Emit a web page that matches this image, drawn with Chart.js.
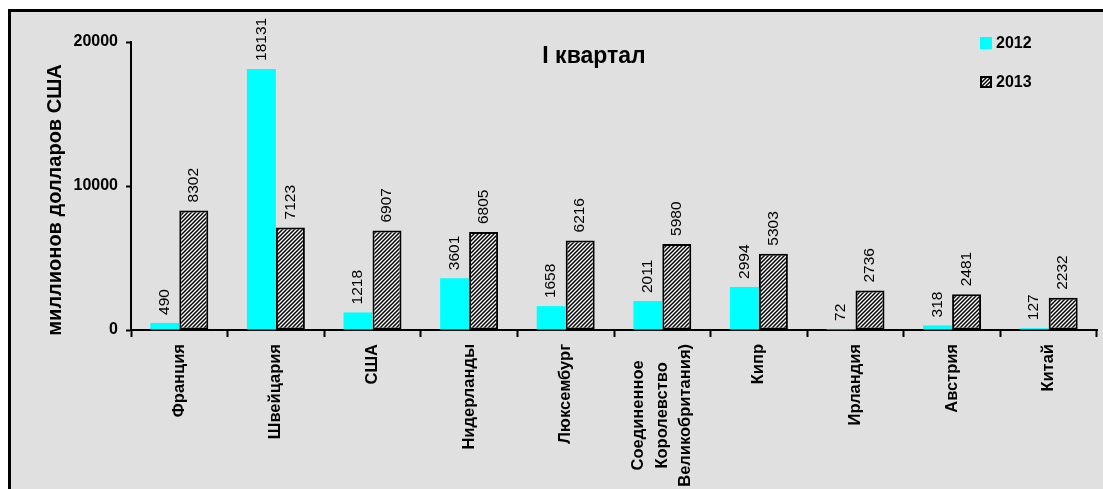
<!DOCTYPE html>
<html lang="ru">
<head>
<meta charset="utf-8">
<title>I квартал</title>
<script src="https://cdn.jsdelivr.net/npm/chart.js@4/dist/chart.umd.min.js"></script>
<style>
  html, body { margin: 0; padding: 0; background: #ffffff; }
  #wrap { position: relative; width: 1103px; height: 489px; }
</style>
</head>
<body>
<div id="wrap"><canvas id="chart" width="1103" height="489"></canvas></div>
<script>
// Countries (categories); the long name wraps onto three lines
const categories = [
  'Франция',
  'Швейцария',
  'США',
  'Нидерланды',
  'Люксембург',
  ['Соединенное', 'Королевство', 'Великобритания)'],
  'Кипр',
  'Ирландия',
  'Австрия',
  'Китай'
];

// Series values, millions of US dollars
const values2012 = [490, 18131, 1218, 3601, 1658, 2011, 2994, 72, 318, 127];
const values2013 = [8302, 7123, 6907, 6805, 6216, 5980, 5303, 2736, 2481, 2232];

// Series names and y-axis ticks
const seriesNames = ['2012', '2013'];
const yTicks = [0, 10000, 20000];

const chartTitle = 'I квартал';
const yAxisTitle = 'миллионов долларов США';

const FONT = '"Liberation Sans", Arial, sans-serif';

// Diagonal hatch fill for the second series
function makeHatch() {
  const c = document.createElement('canvas');
  c.width = 4; c.height = 4;
  const g = c.getContext('2d');
  g.fillStyle = '#ffffff';
  g.fillRect(0, 0, 4, 4);
  g.strokeStyle = '#000000';
  g.lineWidth = 1.5;
  g.beginPath();
  g.moveTo(-1, 1); g.lineTo(1, -1);
  g.moveTo(0, 4); g.lineTo(4, 0);
  g.moveTo(3, 5); g.lineTo(5, 3);
  g.stroke();
  return g.createPattern(c, 'repeat');
}
const hatch = makeHatch();

// Grey panel with a black frame on top and left
const panelPlugin = {
  id: 'panel',
  beforeDraw(chart) {
    const ctx = chart.ctx;
    const w = chart.width, h = chart.height;
    ctx.save();
    ctx.fillStyle = '#ffffff';
    ctx.fillRect(0, 0, w, h);
    ctx.fillStyle = '#e0e0e0';
    ctx.fillRect(8, 9, w - 8, h - 9);
    ctx.fillStyle = '#000000';
    ctx.fillRect(8, 9, w - 8, 3);
    ctx.fillRect(8, 9, 3, h - 9);
    ctx.restore();
  }
};

// Title inside the plot region and the vertical axis caption
const titlePlugin = {
  id: 'innerTitle',
  afterDraw(chart) {
    const ctx = chart.ctx;
    ctx.save();
    ctx.fillStyle = '#000000';
    ctx.textAlign = 'center';
    ctx.textBaseline = 'middle';
    ctx.font = 'bold 23px ' + FONT;
    ctx.fillText(chartTitle, 594, 57);
    ctx.translate(55, chart.chartArea.top + 158);
    ctx.rotate(-Math.PI / 2);
    ctx.font = 'bold 20px ' + FONT;
    ctx.fillText(yAxisTitle, 0, 0);
    ctx.restore();
  }
};

// Category names, rotated, below the x axis
const categoryLabelPlugin = {
  id: 'categoryLabels',
  afterDraw(chart) {
    const ctx = chart.ctx;
    const xs = chart.scales.x;
    const lineGap = 23.5;
    ctx.save();
    ctx.font = 'bold 16.5px ' + FONT;
    ctx.fillStyle = '#000000';
    ctx.textAlign = 'center';
    ctx.textBaseline = 'middle';
    chart.data.labels.forEach((lab, i) => {
      const lines = Array.isArray(lab) ? lab : [lab];
      const maxW = Math.max(...lines.map(t => ctx.measureText(t).width));
      const cx = xs.getPixelForValue(i);
      const cy = xs.top + 14 + maxW / 2;
      lines.forEach((t, k) => {
        const off = (k - (lines.length - 1) / 2) * lineGap;
        ctx.save();
        ctx.translate(cx + off, cy);
        ctx.rotate(-Math.PI / 2);
        ctx.fillText(t, 0, 0);
        ctx.restore();
      });
    });
    ctx.restore();
  }
};

// Legend in the upper right corner
const legendPlugin = {
  id: 'cornerLegend',
  afterDraw(chart) {
    const ctx = chart.ctx;
    const x = chart.width - 123;
    const rows = [43, 82];
    ctx.save();
    chart.data.datasets.forEach((ds, i) => {
      const y = rows[i];
      ctx.fillStyle = ds.backgroundColor;
      ctx.fillRect(x, y - 6, 12, 12);
      if (ds.borderWidth) {
        ctx.strokeStyle = '#000000';
        ctx.lineWidth = 2;
        ctx.strokeRect(x + 1, y - 5, 10, 10);
      }
      ctx.fillStyle = '#000000';
      ctx.font = 'bold 16px ' + FONT;
      ctx.textAlign = 'left';
      ctx.textBaseline = 'middle';
      ctx.fillText(ds.label, x + 16, y + 1);
    });
    ctx.restore();
  }
};

// Vertical value labels above each bar
const valueLabelPlugin = {
  id: 'valueLabels',
  afterDatasetsDraw(chart) {
    const ctx = chart.ctx;
    ctx.save();
    ctx.font = '15.5px ' + FONT;
    ctx.fillStyle = '#000000';
    ctx.textAlign = 'left';
    ctx.textBaseline = 'middle';
    chart.data.datasets.forEach((ds, i) => {
      const meta = chart.getDatasetMeta(i);
      meta.data.forEach((bar, j) => {
        ctx.save();
        ctx.translate(bar.x, bar.y - 8);
        ctx.rotate(-Math.PI / 2);
        ctx.fillText(String(ds.data[j]), 0, 0);
        ctx.restore();
      });
    });
    ctx.restore();
  }
};

new Chart(document.getElementById('chart'), {
  type: 'bar',
  data: {
    labels: categories,
    datasets: [
      {
        label: seriesNames[0],
        data: values2012,
        backgroundColor: '#00ffff',
        borderWidth: 0,
        categoryPercentage: 0.6,
        barPercentage: 1.0
      },
      {
        label: seriesNames[1],
        data: values2013,
        backgroundColor: hatch,
        borderColor: '#000000',
        borderWidth: 2,
        borderSkipped: false,
        categoryPercentage: 0.6,
        barPercentage: 1.0
      }
    ]
  },
  options: {
    responsive: false,
    animation: false,
    events: [],
    layout: { padding: { left: 40, top: 42, right: 6, bottom: 0 } },
    plugins: {
      legend: { display: false },
      title: { display: false },
      tooltip: { enabled: false }
    },
    scales: {
      x: {
        offset: true,
        border: { display: true, color: '#000000', width: 2 },
        grid: {
          offset: true,
          drawOnChartArea: false,
          drawTicks: true,
          tickLength: 7,
          tickColor: '#000000',
          tickWidth: 2
        },
        ticks: { display: false },
        afterFit(scale) { scale.height = 159; }
      },
      y: {
        min: 0,
        max: 20000,
        afterBuildTicks(scale) { scale.ticks = yTicks.map(v => ({ value: v })); },
        border: { display: true, color: '#000000', width: 2 },
        grid: {
          drawOnChartArea: false,
          drawTicks: true,
          tickLength: 5,
          tickColor: '#000000',
          tickWidth: 2
        },
        ticks: {
          padding: 8,
          color: '#000000',
          font: { family: FONT, size: 16, weight: 'bold' },
          callback: (v) => String(v)
        },
        afterFit(scale) { scale.width = 91; }
      }
    }
  },
  plugins: [panelPlugin, titlePlugin, categoryLabelPlugin, legendPlugin, valueLabelPlugin]
});
</script>
</body>
</html>
